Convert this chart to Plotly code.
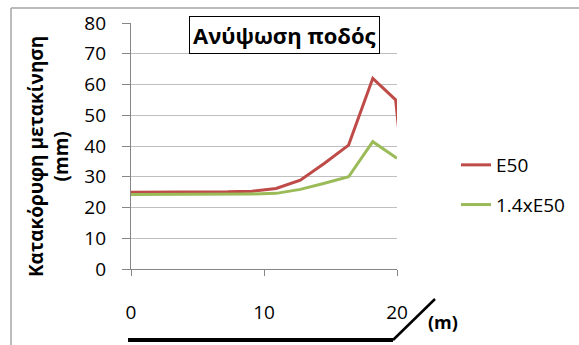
import plotly.graph_objects as go

# ---- data ----
x_e50 = [0, 1.82, 3.64, 5.45, 7.27, 9.09, 10.91, 12.73, 14.55, 16.36, 18.18, 19.9, 20.2]
y_e50 = [25.0, 25.0, 24.9, 25.0, 25.1, 25.3, 26.2, 28.9, 34.4, 40.3, 62.0, 55.0, 42.0]
x_14 = [0, 1.82, 3.64, 5.45, 7.27, 9.09, 10.91, 12.73, 14.55, 16.36, 18.18, 20.0]
y_14 = [24.2, 24.2, 24.2, 24.2, 24.3, 24.4, 24.6, 25.9, 27.9, 30.0, 41.4, 36.0]
series_names = ["E50", "1.4xE50"]
x_ticks = [0, 10, 20]
y_ticks = [0, 10, 20, 30, 40, 50, 60, 70, 80]
title_text = "<b>Ανύψωση ποδός</b>"
ytitle_text = "<b>Κατακόρυφη μετακίνηση<br>(mm)</b>"
unit_text = "<b>(m)</b>"

FONT = "Open Sans"
W, H = 579, 345
L, R, T, B = 131, 182, 23, 76

def px(xp):
    return (xp - L) / (W - L - R)

def py(yp):
    return (H - B - yp) / (H - T - B)

fig = go.Figure()
fig.add_trace(go.Scatter(x=x_e50, y=y_e50, mode="lines", name=series_names[0],
                         legendgroup="a", line=dict(color="#BE4B48", width=3)))
fig.add_trace(go.Scatter(x=x_14, y=y_14, mode="lines", name=series_names[1],
                         legendgroup="b", line=dict(color="#9BBB59", width=3)))

fig.update_layout(
    width=W, height=H,
    margin=dict(l=L, r=R, t=T, b=B, autoexpand=False),
    paper_bgcolor="white", plot_bgcolor="white",
    font=dict(family=FONT, color="black", size=19),
    showlegend=True,
    legend=dict(x=px(456), y=py(146), xanchor="left", yanchor="top",
                font=dict(size=19, family=FONT), tracegroupgap=12,
                bgcolor="rgba(0,0,0,0)", itemwidth=30),
    xaxis=dict(range=[0, 20], tickvals=x_ticks, ticktext=[str(v) for v in x_ticks],
               showgrid=False, zeroline=False, showline=True, linecolor="#868686",
               linewidth=1.3, ticks="outside", ticklen=6, tickcolor="#868686",
               ticklabelstandoff=20, tickfont=dict(size=19, family=FONT)),
    yaxis=dict(range=[0, 80], tickvals=y_ticks, showgrid=True, gridcolor="#BFBFBF",
               gridwidth=1.3, zeroline=False, showline=True, linecolor="#868686",
               linewidth=1.3, ticks="outside", ticklen=8, tickcolor="#868686",
               ticklabelstandoff=12, tickfont=dict(size=19, family=FONT)),
)

# y-axis title (rotated)
fig.add_annotation(x=px(48), y=py(157), xref="paper", yref="paper",
                   text=ytitle_text, showarrow=False, textangle=-90,
                   xanchor="center", yanchor="middle",
                   font=dict(size=19, family=FONT, color="black"))
# Title box
fig.add_annotation(x=px(284.5), y=py(35.5), xref="paper", yref="paper",
                   text=title_text, showarrow=False, xanchor="center", yanchor="middle",
                   font=dict(size=22, family=FONT, color="black"),
                   bordercolor="black", borderwidth=1, borderpad=3, bgcolor="white")
# unit label
fig.add_annotation(x=px(443), y=py(322), xref="paper", yref="paper",
                   text=unit_text, showarrow=False, xanchor="center", yanchor="middle",
                   font=dict(size=18, family=FONT, color="black"))

# chart border (top and left)
fig.add_shape(type="line", xref="paper", yref="paper", x0=px(11), x1=px(579),
              y0=py(8), y1=py(8), line=dict(color="#A6A6A6", width=1.5))
fig.add_shape(type="line", xref="paper", yref="paper", x0=px(11), x1=px(11),
              y0=py(8), y1=py(345), line=dict(color="#A6A6A6", width=1.5))
# ground sketch
fig.add_shape(type="line", xref="paper", yref="paper", x0=px(128), x1=px(393),
              y0=py(340), y1=py(340), line=dict(color="black", width=4))
fig.add_shape(type="line", xref="paper", yref="paper", x0=px(393), x1=px(435),
              y0=py(340), y1=py(299), line=dict(color="black", width=2.5))

fig.write_html("out.html")
